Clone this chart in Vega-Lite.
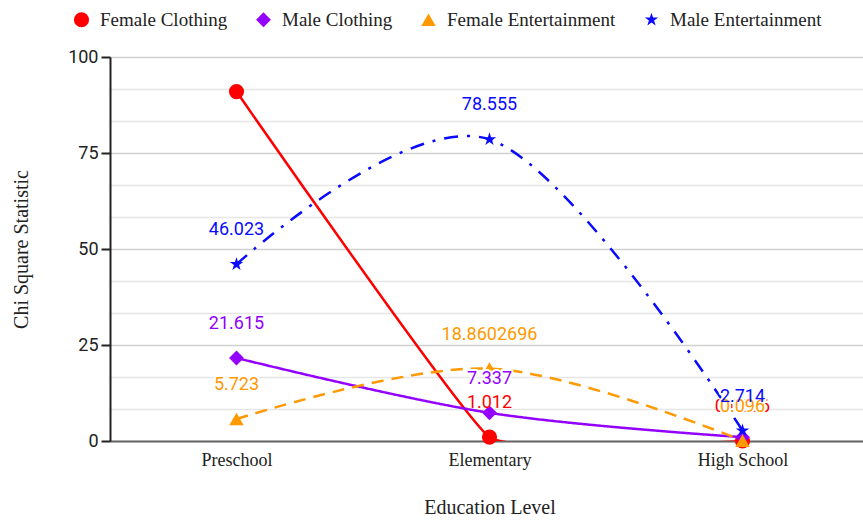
{
  "$schema": "https://vega.github.io/schema/vega-lite/v6.json",
  "width": 759,
  "height": 384,
  "autosize": "none",
  "padding": {"left": 110, "top": 57, "right": 0, "bottom": 79},
  "background": "white",
  "data": {
    "values": [
      {"level": "Preschool", "series": "Female Clothing", "value": 91, "label": ""},
      {"level": "Elementary", "series": "Female Clothing", "value": 1.012, "label": "1.012"},
      {"level": "High School", "series": "Female Clothing", "value": 0.0096, "label": "0.0096"},
      {"level": "Preschool", "series": "Male Clothing", "value": 21.615, "label": "21.615"},
      {"level": "Elementary", "series": "Male Clothing", "value": 7.337, "label": "7.337"},
      {"level": "High School", "series": "Male Clothing", "value": 1.0, "label": ""},
      {"level": "Preschool", "series": "Female Entertainment", "value": 5.723, "label": "5.723"},
      {"level": "Elementary", "series": "Female Entertainment", "value": 18.8602696, "label": "18.8602696"},
      {"level": "High School", "series": "Female Entertainment", "value": 0.096, "label": "0.096"},
      {"level": "Preschool", "series": "Male Entertainment", "value": 46.023, "label": "46.023"},
      {"level": "Elementary", "series": "Male Entertainment", "value": 78.555, "label": "78.555"},
      {"level": "High School", "series": "Male Entertainment", "value": 2.714, "label": "2.714"}
    ]
  },
  "encoding": {
    "x": {
      "field": "level",
      "type": "nominal",
      "sort": ["Preschool", "Elementary", "High School"],
      "scale": {"type": "point", "padding": 0.5},
      "axis": {
        "title": "Education Level",
        "titleFont": "Liberation Serif",
        "titleFontSize": 20,
        "titleFontWeight": "normal",
        "titleColor": "#222",
        "titlePadding": 28,
        "labelFont": "Liberation Serif",
        "labelFontSize": 18,
        "labelColor": "#222",
        "labelAngle": 0,
        "labelPadding": 10,
        "ticks": false,
        "domainColor": "#666",
        "domainWidth": 2,
        "grid": false
      }
    },
    "y": {
      "field": "value",
      "type": "quantitative",
      "scale": {"domain": [0, 100], "nice": false},
      "axis": {
        "title": "Chi Square Statistic",
        "titleFont": "Liberation Serif",
        "titleFontSize": 20,
        "titleFontWeight": "normal",
        "titleColor": "#222",
        "titlePadding": 36,
        "values": [0, 8.333333333333334, 16.666666666666668, 25, 33.333333333333336, 41.666666666666664, 50, 58.333333333333336, 66.66666666666667, 75, 83.33333333333333, 91.66666666666667, 100],
        "labelExpr": "abs(datum.value % 25) < 0.01 ? datum.label : ''",
        "labelFont": "Roboto",
        "labelFontSize": 18,
        "labelColor": "#222",
        "labelPadding": 3,
        "tickSize": 9,
        "tickWidth": 2,
        "tickColor": "#222",
        "tickOpacity": {"condition": {"test": "abs(datum.value % 25) < 0.01", "value": 1}, "value": 0},
        "domainColor": "#222",
        "domainWidth": 2,
        "grid": true,
        "gridColor": {"condition": {"test": "abs(datum.value % 25) < 0.01", "value": "#d0d0d0"}, "value": "#e6e6e6"},
        "gridWidth": 1.5
      }
    },
    "color": {
      "field": "series",
      "type": "nominal",
      "scale": {
        "domain": ["Female Clothing", "Male Clothing", "Female Entertainment", "Male Entertainment"],
        "range": ["#ff0000", "#9400ff", "#ff9900", "#0a0aff"]
      },
      "legend": {
        "orient": "none",
        "legendX": -38,
        "legendY": -47,
        "direction": "horizontal",
        "title": null,
        "labelFont": "Liberation Serif",
        "labelFontSize": 19,
        "labelColor": "#222",
        "labelLimit": 400,
        "symbolSize": 240,
        "symbolStrokeWidth": 0,
        "labelOffset": 9,
        "columnPadding": 26
      }
    }
  },
  "layer": [
    {
      "transform": [{"filter": {"field": "series", "equal": "Female Clothing"}}],
      "mark": {"type": "line", "interpolate": "cardinal", "tension": 0.7, "clip": true, "strokeWidth": 2.5}
    },
    {
      "transform": [{"filter": {"field": "series", "oneOf": ["Male Clothing", "Female Entertainment", "Male Entertainment"]}}],
      "mark": {"type": "line", "interpolate": "cardinal", "clip": true},
      "encoding": {
        "strokeDash": {
          "field": "series",
          "type": "nominal",
          "scale": {
            "domain": ["Male Clothing", "Female Entertainment", "Male Entertainment"],
            "range": [[1, 0], [12, 8], [14, 9, 3, 9]]
          },
          "legend": null
        },
        "strokeWidth": {
          "field": "series",
          "type": "nominal",
          "scale": {
            "domain": ["Male Clothing", "Female Entertainment", "Male Entertainment"],
            "range": [2.5, 2.5, 3]
          },
          "legend": null
        }
      }
    },
    {
      "mark": {"type": "point", "filled": true, "opacity": 1, "clip": false},
      "encoding": {
        "shape": {
          "field": "series",
          "type": "nominal",
          "scale": {
            "domain": ["Female Clothing", "Male Clothing", "Female Entertainment", "Male Entertainment"],
            "range": ["circle", "diamond", "triangle-up", "M0,-1L0.2245,-0.309L0.9511,-0.309L0.3633,0.118L0.5878,0.809L0,0.382L-0.5878,0.809L-0.3633,0.118L-0.9511,-0.309L-0.2245,-0.309Z"]
          }
        },
        "size": {
          "field": "series",
          "type": "nominal",
          "scale": {
            "domain": ["Female Clothing", "Male Clothing", "Female Entertainment", "Male Entertainment"],
            "range": [230, 200, 190, 440]
          },
          "legend": null
        }
      }
    },
    {
      "transform": [{"filter": {"field": "series", "equal": "Female Clothing"}}],
      "mark": {"type": "text", "dy": -34, "font": "Roboto", "fontSize": 18, "baseline": "middle", "align": "center"},
      "encoding": {"text": {"field": "label"}}
    },
    {
      "transform": [{"filter": {"field": "series", "oneOf": ["Male Clothing", "Female Entertainment", "Male Entertainment"]}}],
      "mark": {"type": "text", "dy": -34, "font": "Roboto", "fontSize": 18, "baseline": "middle", "align": "center", "stroke": "white", "strokeWidth": 4, "strokeJoin": "round"},
      "encoding": {"text": {"field": "label"}}
    },
    {
      "transform": [{"filter": {"field": "series", "oneOf": ["Male Clothing", "Female Entertainment", "Male Entertainment"]}}],
      "mark": {"type": "text", "dy": -34, "font": "Roboto", "fontSize": 18, "baseline": "middle", "align": "center"},
      "encoding": {"text": {"field": "label"}}
    }
  ]
}
